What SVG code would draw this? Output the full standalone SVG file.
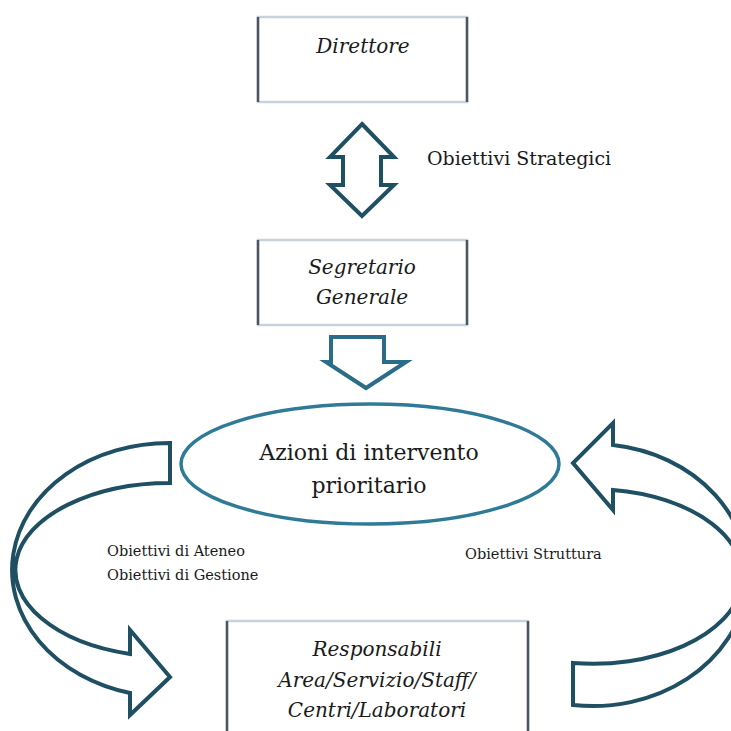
<svg xmlns="http://www.w3.org/2000/svg" width="731" height="731" viewBox="0 0 731 731">
<style>
.bx{fill:#fff;stroke:#c8d2dd;stroke-width:2.5}
.side{stroke:#4d5560;stroke-width:2.5}
.t{font-family:"DejaVu Serif","Liberation Serif",serif;fill:#1a1a1a}
.it{font-style:italic;font-size:20px;text-anchor:middle}
.lab{font-size:14.5px}
.arr{fill:#fff;stroke:#1f4f63;stroke-width:4;stroke-linejoin:miter}
.arr2{fill:#fff;stroke:#2b6d88;stroke-width:4}
</style>
<rect width="731" height="731" fill="#fff"/>
<g id="connectors">
<polygon class="arr" points="362,124 394,157 381,157 381,185 394,185 362,216 330,185 343,185 343,157 330,157"/>
<polygon class="arr2" points="331,337 384,337 384,362 406,362 366,388 326,362 331,362"/>
<path class="arr" d="M170,443 A157,127 0 0 0 130,693 L130,715 L170,677 L130,630 L130,654 A155,87 0 0 1 170,483 Z"/>
<path class="arr" d="M613,445 A153,130 0 0 1 573,705 L573,663 A149,87 0 0 0 613,490 L613,510 L573,463 L613,423 Z"/>
</g>
<g id="direttore">
<rect class="bx" x="258" y="17" width="209" height="85"/>
<line class="side" x1="258" y1="17" x2="258" y2="102"/>
<line class="side" x1="467" y1="17" x2="467" y2="102"/>
<text class="t it" x="363" y="53">Direttore</text>
</g>
<g id="segretario">
<rect class="bx" x="258" y="240" width="209" height="85"/>
<line class="side" x1="258" y1="240" x2="258" y2="325"/>
<line class="side" x1="467" y1="240" x2="467" y2="325"/>
<text class="t it" x="362" y="274">Segretario</text>
<text class="t it" x="362" y="304">Generale</text>
</g>
<g id="azioni">
<ellipse cx="370" cy="464" rx="189" ry="60" fill="#fff" stroke="#2e7a97" stroke-width="3.5"/>
<text class="t" x="369" y="460" font-size="22" text-anchor="middle">Azioni di intervento</text>
<text class="t" x="369" y="493" font-size="22" text-anchor="middle">prioritario</text>
</g>
<g id="responsabili">
<rect class="bx" x="227" y="621" width="301" height="120"/>
<line class="side" x1="227" y1="621" x2="227" y2="731"/>
<line class="side" x1="528" y1="621" x2="528" y2="731"/>
<text class="t it" x="377" y="656">Responsabili</text>
<text class="t it" x="377" y="687">Area/Servizio/Staff/</text>
<text class="t it" x="377" y="717">Centri/Laboratori</text>
</g>
<g id="labels">
<text class="t" x="427" y="165" font-size="19">Obiettivi Strategici</text>
<text class="t lab" x="107" y="556">Obiettivi di Ateneo</text>
<text class="t lab" x="107" y="580">Obiettivi di Gestione</text>
<text class="t lab" x="465" y="559">Obiettivi Struttura</text>
</g>
</svg>
